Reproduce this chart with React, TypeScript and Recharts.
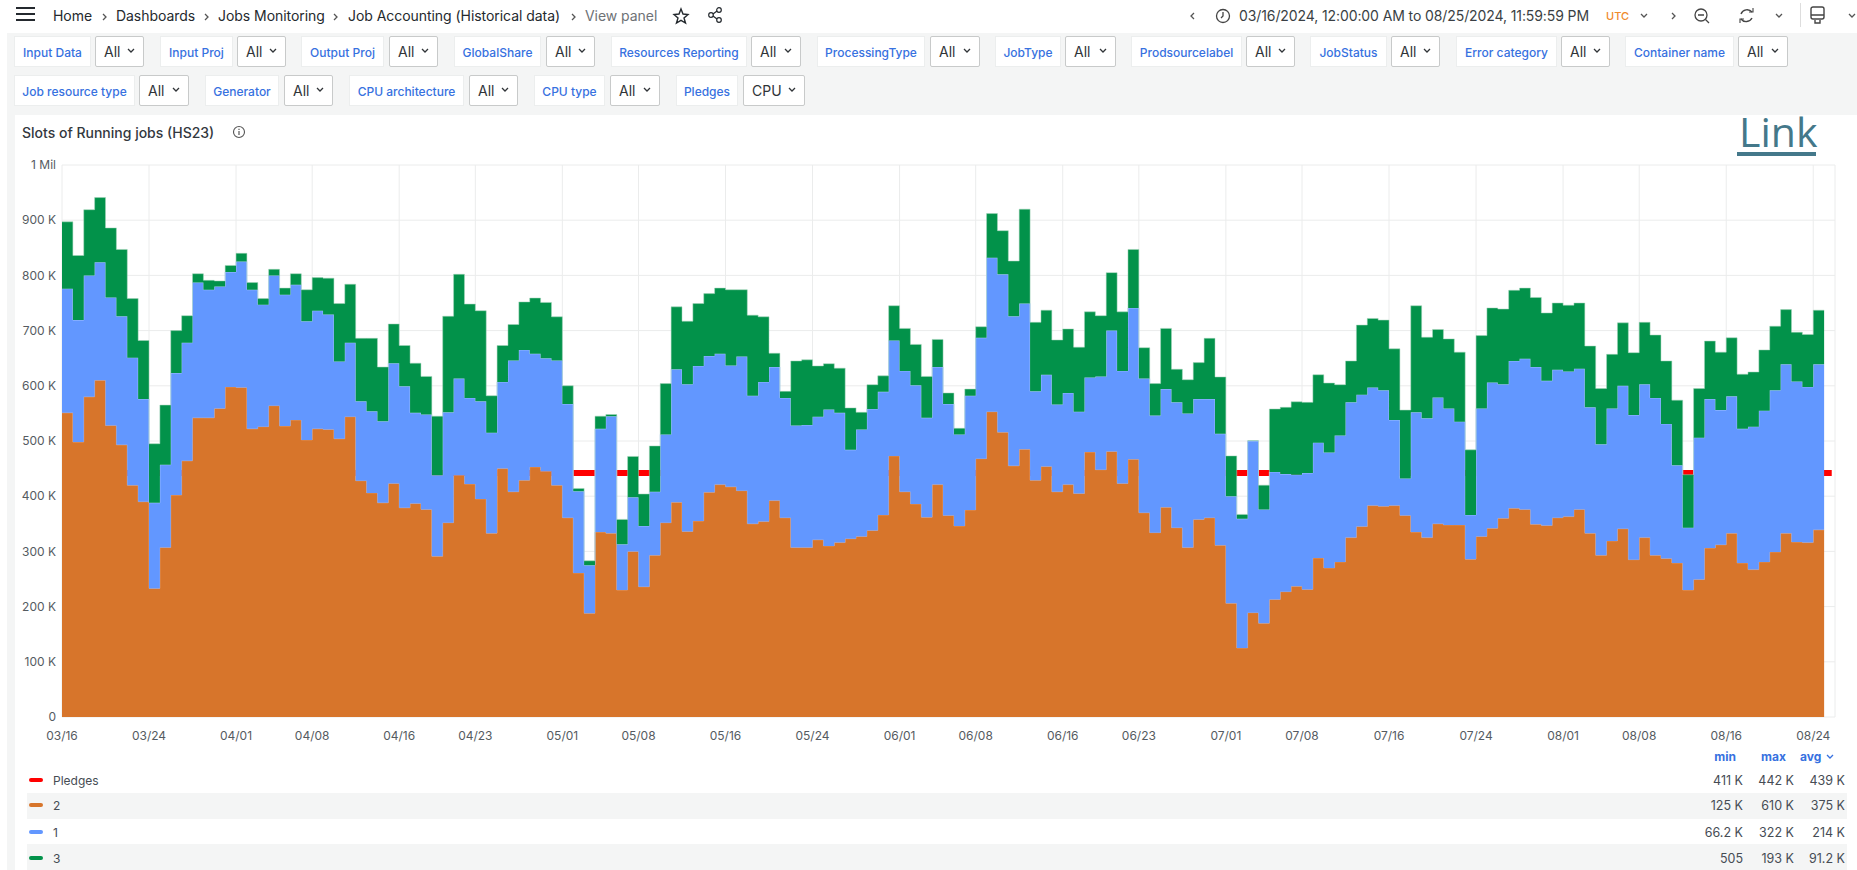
import React from 'react';
import { ComposedChart, Area, Line, XAxis, YAxis, CartesianGrid } from 'recharts';

// values in thousands, one per day from 03/16
const series2 = [551,498,580,610,528,493,420,390,233,307,402,464,542,542,559,598,597,522,526,564,527,538,502,522,521,504,544,428,406,388,423,379,387,376,291,352,438,422,395,333,450,408,429,453,445,420,361,261,188,335,333,230,300,236,293,352,389,336,355,407,421,417,410,350,354,392,361,307,307,321,310,316,323,327,338,366,473,408,386,362,421,365,346,375,468,553,516,455,485,429,454,408,421,405,480,448,481,423,467,370,334,380,343,307,358,361,311,206,125,189,170,213,227,237,231,288,270,281,325,345,383,382,383,365,335,325,350,348,348,286,327,342,360,378,376,349,347,361,363,376,333,293,319,341,285,325,293,287,279,230,249,306,312,333,279,267,281,299,333,317,316,339];
const series1 = [225,221,220,214,232,233,231,186,155,150,221,214,245,232,221,208,228,252,221,236,238,245,215,214,208,140,134,144,148,148,218,220,164,172,147,200,175,156,177,182,157,238,236,205,205,226,206,148,87,187,212,83,98,110,115,160,241,267,281,247,237,220,243,232,253,242,217,221,222,223,247,235,161,194,220,223,209,219,215,180,213,202,166,207,219,279,286,271,264,161,166,158,166,148,135,169,219,204,274,243,212,214,227,243,218,215,202,194,234,311,206,231,213,202,211,209,209,229,245,239,214,210,155,67,217,216,229,211,187,80,232,264,243,267,273,285,262,268,263,255,228,201,240,259,262,278,285,244,177,113,257,270,244,248,243,259,274,293,306,291,282,300];
const series3 = [121,117,119,117,126,121,107,106,107,108,77,49,16,17,10,12,15,13,11,11,12,20,57,60,66,105,106,114,132,98,71,74,90,69,107,174,189,170,164,67,66,65,87,101,101,79,33,5,8,23,3,45,74,58,83,92,113,114,113,113,119,137,121,146,118,25,12,117,118,92,83,81,76,31,44,29,63,77,74,75,50,20,11,12,20,80,79,100,171,125,117,117,116,117,119,110,105,107,106,56,58,110,60,61,66,110,103,73,8,0.505,44,114,121,132,128,123,126,92,75,126,125,127,129,124,193,147,123,126,126,118,132,135,136,128,128,126,123,121,120,119,111,101,98,114,113,112,114,114,118,96,89,105,105,106,99,99,110,116,99,89,95,98];
const pledgeDays = [0, 162.7];
const pledgeValues = [442, 442];

const tickDays = [0,8,16,23,31,38,46,53,61,69,77,84,92,99,107,114,122,130,138,145,153,161];
const tickLabels = ['03/16','03/24','04/01','04/08','04/16','04/23','05/01','05/08','05/16','05/24','06/01','06/08','06/16','06/23','07/01','07/08','07/16','07/24','08/01','08/08','08/16','08/24'];
const valueTicks = [0,100,200,300,400,500,600,700,800,900,1000];

const legendNames = ['Pledges','2','1','3'];
const legendMin = ['411 K','125 K','66.2 K','505'];
const legendMax = ['442 K','610 K','322 K','193 K'];
const legendAvg = ['439 K','375 K','214 K','91.2 K'];
const legendColors = ['#ff0000','#d7752b','#6297ff','#02924a'];
const legendRowY = [768,793,819,844];
const legendTextY = [773,798,825,851];

const filterLabels = ['Input Data','Input Proj','Output Proj','GlobalShare','Resources Reporting','ProcessingType','JobType','Prodsourcelabel','JobStatus','Error category','Container name','Job resource type','Generator','CPU architecture','CPU type','Pledges'];
const filterValues = ['All','All','All','All','All','All','All','All','All','All','All','All','All','All','All','CPU'];
// labelStart, labelEnd, valueStart, valueEnd, top
const filterBoxes = [
  [14,91,95,144,36],[160,233,237,286,36],[301,384,389,438,36],[454,541,546,595,36],[611,747,751,801,36],[817,925,930,980,36],
  [995,1061,1065,1116,36],[1131,1242,1246,1295,36],[1310,1387,1391,1440,36],[1456,1557,1561,1610,36],[1625,1734,1738,1788,36],
  [14,135,139,189,75],[205,279,284,333,75],[349,464,469,518,75],[534,605,610,660,75],[676,738,743,805,75],
];

const crumbs = ['Home','Dashboards','Jobs Monitoring','Job Accounting (Historical data)'];
const crumbX = [53,116,218,348];
const crumbArrowX = [101,203,332,570];

const rows = series2.map((v, i) => ({ day: i, s2: v, s1: series1[i], s3: series3[i] }));
const lastIdx = series2.length - 1;
rows.push({ day: lastIdx + 1, s2: series2[lastIdx], s1: series1[lastIdx], s3: series3[lastIdx] });
const pledgeRows = pledgeDays.map((d, i) => ({ day: d, pledges: pledgeValues[i] }));

const FONT = 'Inter, "Noto Sans", sans-serif';
const abs = (x: number, y: number, extra: React.CSSProperties = {}): React.CSSProperties => ({
  position: 'absolute', left: x, top: y, whiteSpace: 'nowrap', ...extra,
});

const Chev = ({ x, y, dir = 'down', color = '#555' }: any) => {
  const d = dir === 'down' ? 'M1 2 L4 5 L7 2' : dir === 'left' ? 'M5 1 L2 4 L5 7' : 'M2 1 L5 4 L2 7';
  return (
    <svg width={8} height={8} style={abs(x, y)}>
      <path d={d} fill="none" stroke={color} strokeWidth={1.3} />
    </svg>
  );
};

const Header = () => (
  <>
    <div style={abs(0, 0, { width: 1857, height: 33, background: '#fff' })} />
    <svg width={20} height={16} style={abs(16, 6)}>
      <path d="M0 2 H19 M0 8 H19 M0 14 H19" stroke="#24292e" strokeWidth={2} />
    </svg>
    {crumbs.map((c, i) => (
      <span key={c} style={abs(crumbX[i], 7, { fontSize: 14, letterSpacing: -0.05, color: '#24292e' })}>{c}</span>
    ))}
    {crumbArrowX.map((x) => <Chev key={x} x={x} y={13} dir="right" />)}
    <span style={abs(585, 7, { fontSize: 14, letterSpacing: -0.05, color: '#6e7276' })}>View panel</span>
    <svg width={18} height={18} style={abs(672, 7)}>
      <path d="M9 2 L11 7 L16 7.5 L12 11 L13.5 16 L9 13.3 L4.5 16 L6 11 L2 7.5 L7 7 Z" fill="none" stroke="#24292e" strokeWidth={1.4} />
    </svg>
    <svg width={18} height={18} style={abs(706, 6)}>
      <circle cx={13} cy={4} r={2.3} fill="none" stroke="#24292e" strokeWidth={1.2} />
      <circle cx={5} cy={9} r={2.3} fill="none" stroke="#24292e" strokeWidth={1.2} />
      <circle cx={13} cy={14} r={2.3} fill="none" stroke="#24292e" strokeWidth={1.2} />
      <path d="M7 8 L11 5 M7 10 L11 13" stroke="#24292e" strokeWidth={1.2} />
    </svg>
    <Chev x={1189} y={12} dir="left" />
    <svg width={16} height={16} style={abs(1215, 8)}>
      <circle cx={8} cy={8} r={6.5} fill="none" stroke="#444" strokeWidth={1.3} />
      <path d="M8 4 V8 L6 10" fill="none" stroke="#444" strokeWidth={1.3} />
    </svg>
    <span style={abs(1239, 7, { fontSize: 14, letterSpacing: -0.1, color: '#3a3f44' })}>03/16/2024, 12:00:00 AM to 08/25/2024, 11:59:59 PM</span>
    <span style={abs(1606, 9, { fontSize: 11, fontWeight: 500, color: '#f08a2c' })}>UTC</span>
    <Chev x={1640} y={12} />
    <Chev x={1670} y={12} dir="right" />
    <svg width={18} height={18} style={abs(1693, 7)}>
      <circle cx={8} cy={8} r={6} fill="none" stroke="#444" strokeWidth={1.3} />
      <path d="M5 8 H11 M12.5 12.5 L16 16" stroke="#444" strokeWidth={1.3} />
    </svg>
    <svg width={18} height={18} style={abs(1738, 7)}>
      <path d="M14 5 A6.5 6.5 0 0 0 3 7 M3 12 A6.5 6.5 0 0 0 14 11" fill="none" stroke="#444" strokeWidth={1.4} />
      <path d="M11 5 H15 V1 M6 12 H2 V16" fill="none" stroke="#444" strokeWidth={1.1} />
    </svg>
    <Chev x={1775} y={12} />
    <div style={abs(1800, 3, { width: 1, height: 24, background: '#ddd' })} />
    <svg width={18} height={20} style={abs(1809, 6)}>
      <rect x={2} y={1} width={13} height={12} rx={2} fill="none" stroke="#444" strokeWidth={1.4} />
      <path d="M2 9 H15 M6 14 V17 H11 V14" fill="none" stroke="#444" strokeWidth={1.4} />
    </svg>
    <Chev x={1848} y={12} />
  </>
);

const Filters = () => (
  <>
    {filterLabels.map((label, i) => {
      const [a, b, c, d, top] = filterBoxes[i];
      return (
        <React.Fragment key={label}>
          <div style={abs(a, top, { width: b - a, height: 31, lineHeight: '31px', textAlign: 'center', background: '#fff', border: '1px solid #eceeee', boxSizing: 'border-box', fontSize: 12, fontWeight: 500, color: '#3771e0' })}>{label}</div>
          <div style={abs(c, top, { width: d - c, height: 31, lineHeight: '29px', paddingLeft: 8, background: '#fff', border: '1px solid #c8caca', borderRadius: 2, boxSizing: 'border-box', fontSize: 14, color: '#303438' })}>{filterValues[i]}</div>
          <Chev x={d - 17} y={top + 11} color="#303438" />
        </React.Fragment>
      );
    })}
  </>
);

const LegendTable = () => (
  <>
    <span style={abs(1690, 749, { width: 46, textAlign: 'right', fontSize: 12, fontWeight: 700, color: '#3771e0' })}>min</span>
    <span style={abs(1740, 749, { width: 46, textAlign: 'right', fontSize: 12, fontWeight: 700, color: '#3771e0' })}>max</span>
    <span style={abs(1800, 749, { fontSize: 12, fontWeight: 700, color: '#3771e0' })}>avg</span>
    <Chev x={1826} y={753} color="#3771e0" />
    {legendNames.map((name, i) => (
      <React.Fragment key={name}>
        <div style={abs(27, legendRowY[i], { width: 1820, height: i === 0 ? 25 : 26, background: i % 2 ? '#f4f5f5' : 'transparent' })} />
        <div style={abs(29, legendTextY[i] + 5, { width: 14, height: 4, borderRadius: 2, background: legendColors[i] })} />
        <span style={abs(53, legendTextY[i], { fontSize: 12, color: '#464c54' })}>{name}</span>
        <span style={abs(1683, legendTextY[i], { width: 60, textAlign: 'right', fontSize: 12.5, color: '#464c54' })}>{legendMin[i]}</span>
        <span style={abs(1734, legendTextY[i], { width: 60, textAlign: 'right', fontSize: 12.5, color: '#464c54' })}>{legendMax[i]}</span>
        <span style={abs(1785, legendTextY[i], { width: 60, textAlign: 'right', fontSize: 12.5, color: '#464c54' })}>{legendAvg[i]}</span>
      </React.Fragment>
    ))}
  </>
);

const formatValue = (v: number) => (v === 0 ? '0' : v === 1000 ? '1 Mil' : `${v} K`);
const formatDay = (d: number) => tickLabels[tickDays.indexOf(d)] ?? '';

export default function App() {
  return (
    <div style={abs(0, 0, { width: 1857, height: 870, overflow: 'hidden', background: '#fff', fontFamily: FONT })}>
      <div style={abs(7, 33, { width: 1850, height: 837, background: '#f4f5f5' })} />
      <div style={abs(15, 115, { width: 1842, height: 755, background: '#fff' })} />
      <Header />
      <Filters />
      <span style={abs(22, 124, { fontSize: 14, fontWeight: 500, color: '#33383e' })}>Slots of Running jobs (HS23)</span>
      <svg width={14} height={14} style={abs(232, 125)}>
        <circle cx={7} cy={7} r={5.5} fill="none" stroke="#555" strokeWidth={1.1} />
        <path d="M7 6 V10 M7 3.8 V5" stroke="#555" strokeWidth={1.2} />
      </svg>
      <span style={abs(1739, 105, { fontFamily: '"Open Sans", sans-serif', fontSize: 41, fontWeight: 400, lineHeight: '52px', color: '#44788a' })}>Link</span>
      <div style={abs(1737, 152, { width: 79, height: 4, background: '#44788a' })} />

      <div style={abs(0, 0)}>
        <ComposedChart
          width={1857}
          height={760}
          data={rows}
          margin={{ top: 165, right: 22, bottom: 13, left: 0 }}
        >
          <CartesianGrid stroke="#ebecec" />
          <XAxis
            dataKey="day"
            type="number"
            domain={[0, 163]}
            ticks={tickDays}
            tickFormatter={formatDay}
            interval={0}
            height={30}
            axisLine={false}
            tickLine={false}
            tickMargin={8}
            tick={{ fontSize: 12, fill: '#555b61', fontFamily: FONT }}
          />
          <YAxis
            type="number"
            domain={[0, 1000]}
            ticks={valueTicks}
            tickFormatter={formatValue}
            interval={0}
            width={62}
            axisLine={false}
            tickLine={false}
            tickMargin={6}
            tickSize={0}
            tick={{ fontSize: 12, fill: '#555b61', fontFamily: FONT }}
          />
          <Line
            data={pledgeRows}
            dataKey="pledges"
            stroke="#ff0000"
            strokeWidth={6}
            dot={false}
            isAnimationActive={false}
            zIndex={50}
          />
          <Area dataKey="s2" type="stepAfter" stackId="a" fill="#d7752b" fillOpacity={1} stroke="#e3a27a" strokeOpacity={0.7} strokeWidth={1} isAnimationActive={false} />
          <Area dataKey="s1" type="stepAfter" stackId="a" fill="#6297ff" fillOpacity={1} stroke="#a8c5ff" strokeOpacity={0.8} strokeWidth={1} isAnimationActive={false} />
          <Area dataKey="s3" type="stepAfter" stackId="a" fill="#02924a" fillOpacity={1} stroke="#a5d6bc" strokeOpacity={0.5} strokeWidth={1} isAnimationActive={false} />
        </ComposedChart>
      </div>
      <LegendTable />
    </div>
  );
}
